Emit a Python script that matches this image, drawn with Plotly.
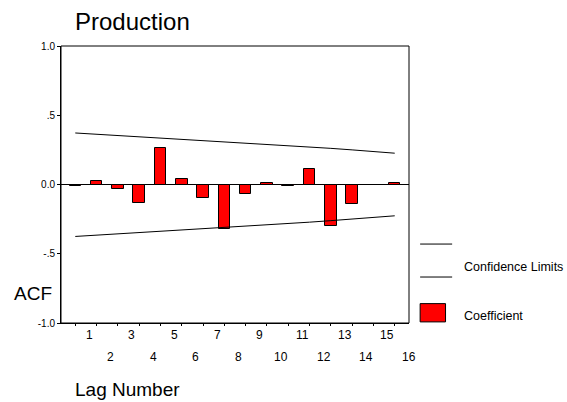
import plotly.graph_objects as go

lags = list(range(1, 17))
lag_labels = [str(k) for k in range(1, 17)]
acf = [-0.008, 0.024, -0.030, -0.137, 0.260, 0.038, -0.097, -0.318,
       -0.065, 0.010, -0.008, 0.115, -0.300, -0.144, -0.005, 0.010]
upper = [0.372, 0.363, 0.354, 0.346, 0.337, 0.329, 0.320, 0.311,
         0.302, 0.292, 0.282, 0.272, 0.261, 0.250, 0.238, 0.226]
lower = [-0.375, -0.366, -0.357, -0.348, -0.339, -0.330, -0.321, -0.312,
         -0.302, -0.292, -0.282, -0.272, -0.261, -0.250, -0.238, -0.226]
y_tickvals = [-1.0, -0.5, 0.0, 0.5, 1.0]
y_ticktext = ["-1.0", "-.5", "0.0", ".5", "1.0"]

FONT = "Liberation Sans, Arial, sans-serif"

fig = go.Figure()
fig.add_trace(go.Scatter(x=lags, y=upper, mode="lines",
                         line=dict(color="black", width=1), showlegend=False))
fig.add_trace(go.Scatter(x=lags, y=lower, mode="lines",
                         line=dict(color="black", width=1), showlegend=False))
fig.add_trace(go.Bar(x=lags, y=acf, width=0.54,
                     marker=dict(color="#ff0000", line=dict(color="black", width=1)),
                     showlegend=False))

annotations = []
for i, (k, lab) in enumerate(zip(lags, lag_labels)):
    annotations.append(dict(x=k + 0.66, y=0, xref="x", yref="paper",
                            text=lab, showarrow=False, xanchor="center",
                            yanchor="middle", yshift=-12 if i % 2 == 0 else -34,
                            font=dict(family=FONT, size=12, color="black")))

# axis titles
annotations.append(dict(x=-0.141, y=0.108, xref="paper", yref="paper", text="ACF",
                        showarrow=False, xanchor="left", yanchor="middle",
                        font=dict(family=FONT, size=19, color="black")))
annotations.append(dict(x=0.034, y=-0.24, xref="paper", yref="paper", text="Lag Number",
                        showarrow=False, xanchor="left", yanchor="middle",
                        font=dict(family=FONT, size=19, color="black")))
# legend texts
annotations.append(dict(x=1.152, y=0.203, xref="paper", yref="paper", text="Confidence Limits",
                        showarrow=False, xanchor="left", yanchor="middle",
                        font=dict(family=FONT, size=12.5, color="black")))
annotations.append(dict(x=1.152, y=0.025, xref="paper", yref="paper", text="Coefficient",
                        showarrow=False, xanchor="left", yanchor="middle",
                        font=dict(family=FONT, size=12.5, color="black")))

shapes = [
    dict(type="rect", xref="paper", yref="paper", x0=0, x1=1, y0=0, y1=1,
         line=dict(color="black", width=1), layer="above"),
    dict(type="line", xref="paper", yref="paper", x0=1.032, x1=1.124, y0=0.285, y1=0.285,
         line=dict(color="black", width=1)),
    dict(type="line", xref="paper", yref="paper", x0=1.032, x1=1.124, y0=0.166, y1=0.166,
         line=dict(color="black", width=1)),
    dict(type="rect", xref="paper", yref="paper", x0=1.032, x1=1.105, y0=0.004, y1=0.07,
         fillcolor="#ff0000", line=dict(color="black", width=1)),
]

fig.update_layout(
    width=567, height=402,
    margin=dict(l=61, r=158, t=46, b=79),
    paper_bgcolor="white", plot_bgcolor="white",
    title=dict(text="Production", x=75 / 567, xanchor="left", xref="container",
               y=1 - 22 / 402, yanchor="middle", yref="container",
               font=dict(family=FONT, size=24, color="black")),
    showlegend=False,
    bargap=0,
    annotations=annotations,
    shapes=shapes,
    xaxis=dict(range=[0.33, 16.67], tickvals=lags, showticklabels=False,
               ticks="outside", ticklen=2, tickcolor="black", showgrid=False,
               zeroline=False, showline=True, linecolor="black", linewidth=1),
    yaxis=dict(range=[-1, 1], tickvals=y_tickvals, ticktext=y_ticktext,
               ticks="outside", ticklen=3, tickcolor="black", showgrid=False,
               zeroline=True, zerolinecolor="black", zerolinewidth=1,
               showline=True, linecolor="black", linewidth=1,
               tickfont=dict(family=FONT, size=10, color="black")),
)

fig.write_html("out.html")
